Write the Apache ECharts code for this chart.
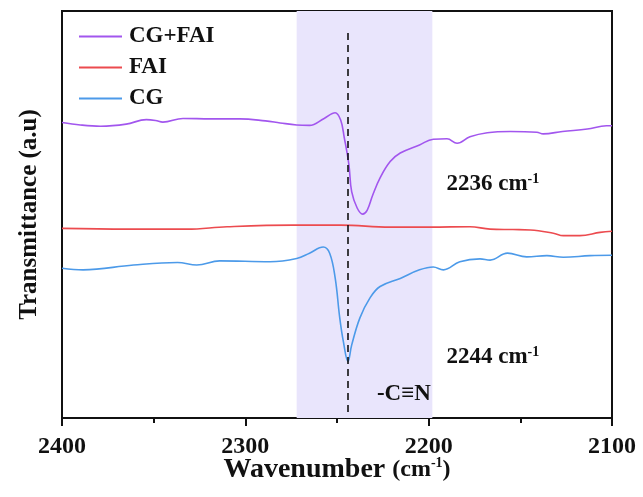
<!DOCTYPE html>
<html>
<head>
<meta charset="utf-8">
<title>FTIR nitrile region</title>
<script src="https://cdn.jsdelivr.net/npm/echarts@6/dist/echarts.min.js"></script>
<style>
  html, body { margin: 0; padding: 0; background: #ffffff; }
  #chart { width: 643px; height: 497px; }
</style>
</head>
<body>
<div id="chart"></div>
<script>
// FTIR spectra (2400-2100 cm-1), transmittance in arbitrary units, curves offset vertically
const seriesNames = ['CG+FAI', 'FAI', 'CG'];
const seriesColors = ['#a256ee', '#ec4b4f', '#4c9ae9'];

// [wavenumber (cm-1), transmittance (a.u.)]
const cgFai = [
  [2400, 72.6], [2390, 72.0], [2379, 71.7], [2365, 72.2], [2354, 73.3], [2349, 73.1],
  [2345, 72.7], [2334, 73.6], [2319, 73.5], [2303, 73.5], [2289, 73.0], [2281, 72.5],
  [2272, 72.0], [2265, 71.9], [2257, 73.6], [2251, 75.0], [2248, 73.2], [2246, 68.8],
  [2243.5, 62.2], [2242, 55.6], [2239, 51.6], [2236, 50.1], [2233.5, 51.1], [2230.5, 54.8],
  [2226.5, 59.0], [2221, 63.0], [2215.5, 65.1], [2205, 67.1], [2197.5, 68.5], [2190, 68.6],
  [2184.5, 67.5], [2177.5, 69.1], [2168, 70.1], [2155.5, 70.4], [2141, 70.2], [2137.5, 69.8],
  [2127, 70.4], [2113.5, 71.0], [2103, 71.8], [2100, 71.8]
];

const fai = [
  [2400, 46.6], [2364.5, 46.4], [2332, 46.4], [2310, 47.0], [2274, 47.4], [2248, 47.4],
  [2221, 46.9], [2199, 46.9], [2177.5, 47.0], [2166.5, 46.4], [2154, 46.3], [2144.5, 46.2],
  [2132, 45.4], [2126.5, 44.8], [2117.5, 44.8], [2106.5, 45.6], [2100, 45.9]
];

const cg = [
  [2400, 36.8], [2388.5, 36.4], [2361, 37.6], [2337, 38.2], [2326.5, 37.6], [2314, 38.6],
  [2286.5, 38.4], [2272, 39.2], [2265, 40.5], [2257.5, 42.0], [2254, 40.5], [2251, 34.4],
  [2248.5, 24.6], [2246.5, 18.7], [2244, 13.9], [2242, 17.9], [2237.5, 24.6], [2232, 29.5],
  [2226.5, 32.3], [2215.5, 34.3], [2205, 36.4], [2197.5, 37.1], [2192, 36.4], [2183, 38.4],
  [2172, 39.1], [2166.5, 38.8], [2157, 40.5], [2146.5, 39.6], [2135.5, 39.9], [2126.5, 39.5],
  [2112, 39.9], [2100, 40.0]
];

// Nitrile band region and peak position
const bandRange = [2272, 2198];
const peakLine = 2244;
const peakLineSpan = [1.5, 95.3];

// Text annotations: [wavenumber, transmittance, value]
const peakLabels = [
  [2165, 57.5, '2236'],
  [2165, 15.0, '2244']
];
const groupLabel = [2213.5, 5.8, '-C\u2261N'];

const xTicks = { min: 2100, max: 2400, step: 100 };

const serif = "'Times New Roman', 'Liberation Serif', serif";
const chart = echarts.init(document.getElementById('chart'), null, { renderer: 'canvas' });

const lineData = [cgFai, fai, cg];

const series = lineData.map((d, i) => ({
  name: seriesNames[i],
  type: 'line',
  data: d,
  symbol: 'none',
  smooth: 0.4,
  lineStyle: { color: seriesColors[i], width: 1.6 },
  itemStyle: { color: seriesColors[i] },
  z: 3
}));

// band shading + dashed peak marker on the first series
series[0].markArea = {
  silent: true,
  itemStyle: { color: '#e9e5fc' },
  data: [[{ xAxis: bandRange[0] }, { xAxis: bandRange[1] }]]
};
series[0].markLine = {
  silent: true,
  symbol: ['none', 'none'],
  label: { show: false },
  lineStyle: { color: '#111111', type: [7, 5], width: 1.6 },
  data: [[{ coord: [peakLine, peakLineSpan[0]] }, { coord: [peakLine, peakLineSpan[1]] }]]
};

const annotationRich = {
  n: { fontFamily: serif, fontWeight: 'bold', fontSize: 23, color: '#111', opacity: 1 },
  sup: { fontFamily: serif, fontWeight: 'bold', fontSize: 14, color: '#111', opacity: 1, verticalAlign: 'top', padding: [0, 0, 10, 0] }
};

series.push({
  name: 'annotations',
  type: 'scatter',
  symbol: 'circle',
  symbolSize: 1,
  itemStyle: { color: 'rgba(0,0,0,0)', opacity: 1 },
  silent: true,
  data: peakLabels.map(p => ({ value: [p[0], p[1]], label: { formatter: '{n|' + p[2] + ' cm}{sup|-1}' } }))
    .concat([{ value: [groupLabel[0], groupLabel[1]], label: { formatter: '{n|' + groupLabel[2] + '}' } }]),
  label: {
    show: true,
    position: 'inside',
    align: 'center',
    verticalAlign: 'middle',
    color: '#111',
    opacity: 1,
    rich: annotationRich
  },
  labelLayout: { hideOverlap: false },
  z: 5
});

chart.setOption({
  animation: false,
  backgroundColor: '#ffffff',
  grid: {
    left: 62, right: 31, top: 11, bottom: 79,
    show: true,
    borderColor: '#111111',
    borderWidth: 2,
    backgroundColor: 'transparent'
  },
  legend: {
    data: seriesNames,
    orient: 'vertical',
    left: 74,
    top: 20,
    icon: 'rect',
    itemWidth: 43,
    itemHeight: 2,
    itemGap: 8,
    textStyle: { fontFamily: serif, fontWeight: 'bold', fontSize: 23, color: '#111', padding: [0, 0, 0, 2] },
    selectedMode: false
  },
  xAxis: {
    type: 'value',
    inverse: true,
    min: xTicks.min,
    max: xTicks.max,
    interval: xTicks.step,
    name: '{a|Wavenumber }{b|(cm}{c|-1}{b|)}',
    nameLocation: 'middle',
    nameGap: 38,
    nameMoveOverlap: false,
    nameTextStyle: {
      rich: {
        a: { fontFamily: serif, fontWeight: 'bold', fontSize: 28, color: '#111' },
        b: { fontFamily: serif, fontWeight: 'bold', fontSize: 24, color: '#111' },
        c: { fontFamily: serif, fontWeight: 'bold', fontSize: 14, color: '#111', verticalAlign: 'top', padding: [0, 0, 12, 0] }
      }
    },
    axisLine: { show: true, onZero: false, lineStyle: { color: '#111', width: 2 } },
    axisTick: { show: true, inside: false, length: 8, lineStyle: { color: '#111', width: 2 } },
    minorTick: { show: true, splitNumber: 2, length: 5, lineStyle: { color: '#111', width: 2 } },
    splitLine: { show: false },
    axisLabel: {
      fontFamily: serif, fontWeight: 'bold', fontSize: 24, color: '#111', margin: 17,
      formatter: v => String(v)
    }
  },
  yAxis: {
    type: 'value',
    min: 0,
    max: 100,
    name: 'Transmittance (a.u)',
    nameLocation: 'middle',
    nameGap: 20,
    nameMoveOverlap: false,
    nameTextStyle: { fontFamily: serif, fontWeight: 'bold', fontSize: 25, color: '#111' },
    axisLine: { show: true, onZero: false, lineStyle: { color: '#111', width: 2 } },
    axisTick: { show: false },
    axisLabel: { show: false },
    splitLine: { show: false }
  },
  series: series
});
</script>
</body>
</html>
